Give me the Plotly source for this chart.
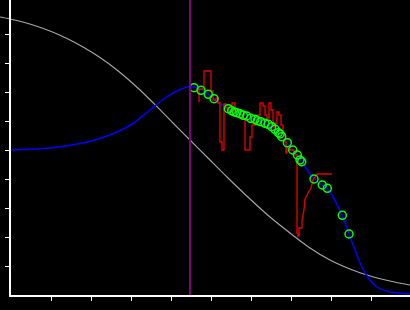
import plotly.graph_objects as go

# ---------------- DATA ----------------
grey_x = [-11, -1, 22, 39, 56, 72, 89, 106, 129, 146, 162, 179, 196, 217, 239, 259, 279, 299, 319, 339, 356, 379, 399]
grey_y = [278, 276, 270, 264, 256.5, 248, 237.5, 225, 205, 188.3, 172, 155, 138, 117, 96, 78, 62, 47, 35, 26, 20, 14, 10]

blue_x = [0, 39, 72, 89, 106, 122, 139, 154, 167, 179, 191, 202, 217, 229, 246,
          262, 269, 276, 282, 291, 303, 311, 316, 322, 331, 338, 344, 350, 356, 366, 379, 399]
blue_y = [145, 147, 152, 156.5, 163, 171.5, 185, 197, 204.5, 208.5, 205, 197, 186, 181, 175,
          167, 160, 152, 145, 133, 116, 110, 107, 98, 80, 61, 45, 30, 19, 8, 3, 1]

red_x = [188, 188, 193, 193, 200, 200, 202, 202, 205, 205, 207, 207, 209, 209, 211, 211, 213, 213,
         215, 215, 218, 218, 221, 221, 224, 224, 229, 229, 232, 232, 234, 234, 239, 239, 241, 241,
         244, 244, 247, 247, 249, 249, 252, 252, 254, 254, 256, 256, 258, 258, 260, 260, 262, 262,
         264, 264, 266, 266, 268, 268, 270, 270, 272, 272, 274, 274, 275, 275, 276, 276, 279, 279,
         283, 283, 286, 286, 287, 287, 288, 288, 291, 291, 293, 294, 297, 300, 302, 304, 306, 321]
red_y = [193, 206, 206, 224, 224, 204, 204, 195, 195, 197, 197, 192, 192, 153, 153, 145, 145, 191,
         191, 187, 187, 183, 183, 192, 192, 183, 183, 180, 180, 177, 177, 145, 145, 158, 158, 170,
         170, 173, 173, 180, 180, 192, 192, 189, 189, 180, 180, 177, 177, 192, 192, 185, 185, 168,
         168, 172, 172, 183, 183, 180, 180, 170, 170, 162, 162, 153, 153, 142, 142, 148, 148, 145,
         145, 140, 140, 62, 62, 59, 59, 67, 67, 74, 85, 96, 102, 107, 115, 118, 121, 121]

pts_x = [183, 190, 197.3, 203, 217.3, 220.7, 223.3, 225.7, 229, 232.3, 235.7, 239.7, 244, 246.3, 249.7,
         254, 257.3, 260.7, 264, 267.3, 269, 270.7, 276.3, 281.7, 286.3, 289, 290.7, 303, 311.3, 316.3,
         331.3, 338]
pts_y = [207.3, 204.7, 200.7, 196.3, 186.3, 184.3, 183, 182.3, 181.3, 179.7, 179, 176.7, 175.7, 174.3,
         173.3, 171.7, 170.7, 168.3, 165.7, 162.3, 161, 158.3, 152.3, 145, 140, 135, 133.3, 116, 110,
         106.7, 79.7, 61]

vline_x = 179
x_ticks = [40, 80, 120, 160, 200, 240, 280, 320, 360]
y_ticks = [29, 58, 87, 116, 145, 174, 203, 232, 261]

X_MIN, X_MAX = 0, 399
Y_MIN, Y_MAX = 0, 295
X_PAD, Y_PAD = 11, 15
W, H = 410, 310

# ---------------- FIGURE ----------------
fig = go.Figure()

fig.add_trace(go.Scatter(x=grey_x, y=grey_y, mode="lines",
                         line=dict(color="#a8a8a8", width=1.1, shape="spline", smoothing=0.8),
                         xaxis="x", yaxis="y", hoverinfo="skip"))
fig.add_trace(go.Scatter(x=blue_x, y=blue_y, mode="lines",
                         line=dict(color="#0000ff", width=1.5, shape="spline", smoothing=0.8),
                         xaxis="x", yaxis="y", hoverinfo="skip"))
fig.add_trace(go.Scatter(x=red_x, y=red_y, mode="lines", line=dict(color="#dd0000", width=1.4),
                         xaxis="x", yaxis="y", hoverinfo="skip"))
fig.add_trace(go.Scatter(x=pts_x, y=pts_y, mode="markers",
                         marker=dict(symbol="circle-open", size=8, color="#00ff00",
                                     line=dict(width=1.5, color="#00ff00")),
                         xaxis="x", yaxis="y", hoverinfo="skip"))
fig.add_trace(go.Scatter(x=[vline_x, vline_x], y=[Y_MIN, Y_MAX], mode="lines",
                         line=dict(color="#800080", width=2), xaxis="x2", yaxis="y2", hoverinfo="skip"))

fig.update_layout(
    width=W, height=H,
    margin=dict(l=0, r=0, t=0, b=0),
    paper_bgcolor="#000000",
    plot_bgcolor="rgba(0,0,0,0)",
    showlegend=False,
    xaxis=dict(domain=[0, 1], range=[X_MIN - X_PAD, X_MAX], visible=False, anchor="y"),
    yaxis=dict(domain=[0, 1], range=[Y_MIN - Y_PAD, Y_MAX], visible=False, anchor="x"),
    xaxis2=dict(domain=[X_PAD / W, 1], range=[X_MIN, X_MAX], anchor="y2",
                showline=True, linecolor="#ffffff", linewidth=1.5,
                ticks="outside", tickvals=x_ticks, ticklen=4, tickwidth=1, tickcolor="#ffffff",
                showticklabels=False, showgrid=False, zeroline=False),
    yaxis2=dict(domain=[Y_PAD / H, 1], range=[Y_MIN, Y_MAX], anchor="x2",
                showline=True, linecolor="#ffffff", linewidth=1.5,
                ticks="outside", tickvals=y_ticks, ticklen=4, tickwidth=1, tickcolor="#ffffff",
                showticklabels=False, showgrid=False, zeroline=False),
)

fig.write_html("out.html")
